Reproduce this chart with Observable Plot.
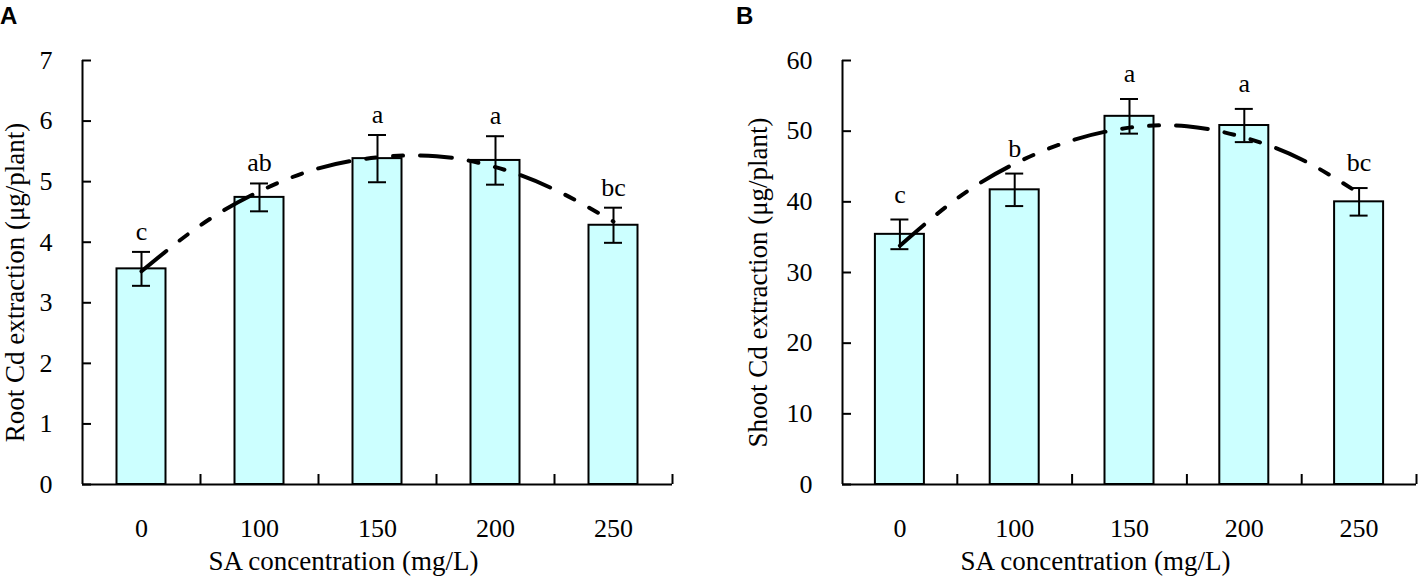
<!DOCTYPE html>
<html><head><meta charset="utf-8">
<script src="https://cdn.jsdelivr.net/npm/d3@7"></script>
<script src="https://cdn.jsdelivr.net/npm/@observablehq/plot@0.6"></script>
<style>
body{margin:0;background:#fff}
#wrap{position:relative;width:1418px;height:576px;display:flex}
.tag{position:absolute;font:bold 24px "Liberation Sans",Arial,sans-serif;color:#000;z-index:2}
</style></head>
<body>
<div id="wrap"><div class="tag" style="left:0;top:2px">A</div><div class="tag" style="left:736px;top:2px">B</div></div>
<script>
// ---- data ----
const categories = ["0", "100", "150", "200", "250"];
const xTitle = "SA concentration (mg/L)";

const rootLabel = "Root Cd extraction (μg/plant)";
const rootMean = [3.56, 4.74, 5.38, 5.35, 4.28];
const rootSE = [0.28, 0.23, 0.39, 0.40, 0.29];
const rootLetters = ["c", "ab", "a", "a", "bc"];
const rootTicks = [0, 1, 2, 3, 4, 5, 6, 7];

const shootLabel = "Shoot Cd extraction (μg/plant)";
const shootMean = [35.4, 41.7, 52.1, 50.8, 40.0];
const shootSE = [2.1, 2.3, 2.45, 2.35, 1.95];
const shootLetters = ["c", "b", "a", "a", "bc"];
const shootTicks = [0, 10, 20, 30, 40, 50, 60];

// dashed trend curve (position in category index units)
const trendX = [0, 0.5, 1, 1.5, 2, 2.5, 3, 3.5, 4];
const rootTrend = [3.52, 4.28, 4.84, 5.22, 5.40, 5.42, 5.24, 4.87, 4.34];
const shootTrend = [33.8, 40.5, 45.4, 48.7, 50.5, 50.7, 49.1, 46.0, 41.2];

const fontFamily = '"Times New Roman", "Liberation Serif", serif';

function panel(o) {
  const H = 576, mt = 60, mb = 92;
  const n = categories.length;
  const idx = d3.range(n);
  const rows = idx.map(i => ({i, mean: o.mean[i], se: o.se[i], letter: o.letters[i]}));
  const trendRows = trendX.map((x, k) => ({x, y: o.trend[k]}));
  const pxX = (o.width - o.ml - o.mr) / n;
  const pxY = (H - mt - mb) / o.yMax;
  const barHalf = 24.5 / pxX;
  const capHalf = 9 / pxX;
  return Plot.plot({
    width: o.width, height: H,
    marginTop: mt, marginBottom: mb, marginLeft: o.ml, marginRight: o.mr,
    style: {fontFamily, fontSize: "26px", color: "#000", background: "transparent", overflow: "visible"},
    x: {domain: [-0.5, n - 0.5]},
    y: {domain: [0, o.yMax]},
    marks: [
      Plot.rectY(rows, {x1: d => d.i - barHalf, x2: d => d.i + barHalf, y1: 0, y2: "mean",
        fill: "#CCFFFF", stroke: "#000", strokeWidth: 2}),
      Plot.ruleX(rows, {x: "i", y1: d => d.mean - d.se, y2: d => d.mean + d.se, stroke: "#000", strokeWidth: 2}),
      Plot.ruleY(rows, {x1: d => d.i - capHalf, x2: d => d.i + capHalf, y: d => d.mean + d.se, stroke: "#000", strokeWidth: 2}),
      Plot.ruleY(rows, {x1: d => d.i - capHalf, x2: d => d.i + capHalf, y: d => d.mean - d.se, stroke: "#000", strokeWidth: 2}),
      Plot.line(trendRows, {x: "x", y: "y", curve: "natural", stroke: "#000", strokeWidth: 4,
        strokeDasharray: "32,17,10,17,10,17"}),
      Plot.text(rows, {x: "i", y: d => d.mean + d.se, text: "letter", dy: o.labelDy, lineAnchor: "bottom", fontSize: 26}),
      Plot.ruleX([-0.5], {y1: 0, y2: o.yMax, stroke: "#000", strokeWidth: 2}),
      Plot.ruleY([0], {x1: -0.5, x2: n - 0.5, stroke: "#000", strokeWidth: 2}),
      Plot.ruleY(o.yTicks, {x1: -0.5, x2: -0.5 + 9 / pxX, stroke: "#000", strokeWidth: 2}),
      Plot.ruleX(idx.map(i => i + 0.5), {y1: 0, y2: 10 / pxY, stroke: "#000", strokeWidth: 2}),
      Plot.axisY(o.yTicks, {tickSize: 0, tickPadding: 30, label: null, fontSize: 26, tickFormat: d => String(d)}),
      Plot.axisX(idx, {tickFormat: i => categories[i], tickSize: 0, tickPadding: 34, label: null, fontSize: 26}),
      Plot.text([o.yLabel], {frameAnchor: "left", textAnchor: "middle", rotate: -90, dx: o.yTitleDx, dy: 10, fontSize: 27}),
      Plot.text([xTitle], {frameAnchor: "bottom", textAnchor: "middle", dx: -34, dy: 66, lineAnchor: "top", fontSize: 27})
    ]
  });
}

const wrap = document.getElementById("wrap");
wrap.append(panel({
  mean: rootMean, se: rootSE, letters: rootLetters, trend: rootTrend,
  yMax: 7, yTicks: rootTicks, yLabel: rootLabel,
  width: 709, ml: 82, mr: 37, yTitleDx: -67, labelDy: -12
}));
wrap.append(panel({
  mean: shootMean, se: shootSE, letters: shootLetters, trend: shootTrend,
  yMax: 60, yTicks: shootTicks, yLabel: shootLabel,
  width: 709, ml: 133, mr: 2, yTitleDx: -84, labelDy: -17
}));
</script>
</body></html>
